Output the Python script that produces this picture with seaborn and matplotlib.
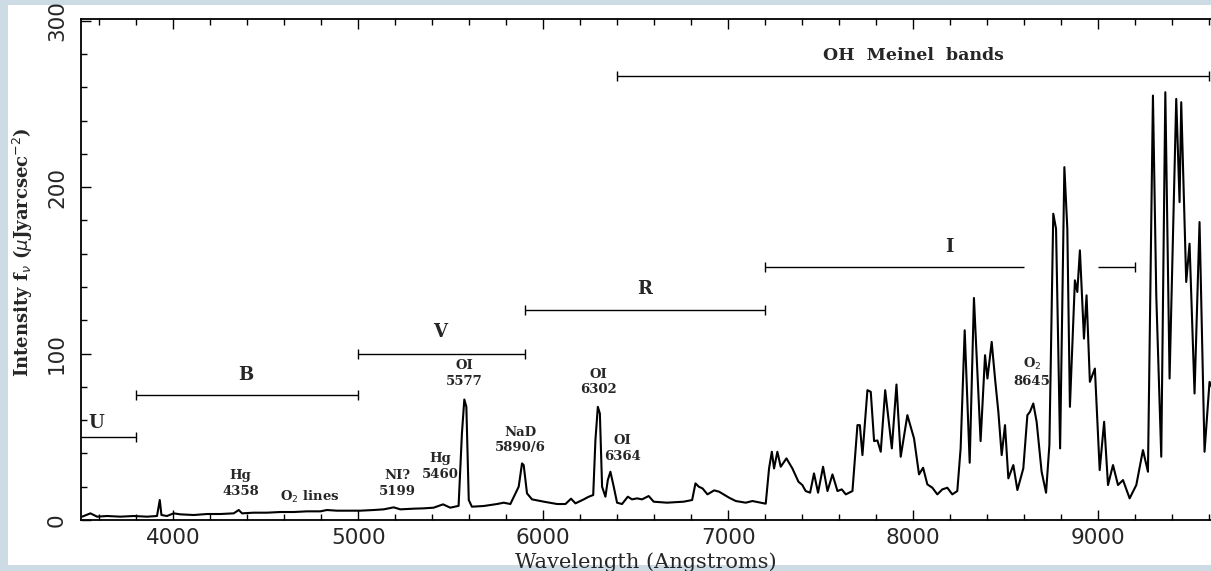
import numpy as np
import pandas as pd
import matplotlib
matplotlib.use("Agg")
import matplotlib.pyplot as plt
from matplotlib.patches import Rectangle
from matplotlib.ticker import MultipleLocator
import seaborn as sns

# night sky spectrum
wavelength = [
    3506, 3551, 3587, 3641, 3713, 3785, 3857, 3911, 3926, 3935, 3965, 4001,
    4037, 4110, 4182, 4254, 4326, 4353, 4371, 4434, 4506, 4578, 4650, 4722,
    4794, 4830, 4884, 4938, 5010, 5083, 5137, 5191, 5227, 5299, 5353, 5407,
    5458, 5497, 5542, 5560, 5573, 5584, 5597, 5614, 5677, 5750, 5786, 5822,
    5867, 5885, 5894, 5912, 5939, 6003, 6075, 6120, 6150, 6174, 6219, 6246,
    6270, 6282, 6295, 6306, 6318, 6336, 6349, 6363, 6381, 6399, 6426, 6457,
    6480, 6507, 6534, 6570, 6597, 6669, 6759, 6805, 6823, 6841, 6861, 6888,
    6924, 6951, 7005, 7041, 7095, 7131, 7203, 7221, 7236, 7248, 7266, 7284,
    7315, 7347, 7380, 7401, 7419, 7443, 7464, 7486, 7513, 7537, 7564, 7591,
    7614, 7636, 7672, 7699, 7712, 7726, 7753, 7771, 7789, 7807, 7825, 7849,
    7885, 7910, 7933, 7969, 8005, 8032, 8054, 8077, 8104, 8131, 8158, 8185,
    8212, 8239, 8257, 8279, 8306, 8329, 8365, 8389, 8402, 8425, 8443, 8461,
    8479, 8497, 8515, 8542, 8564, 8596, 8618, 8632, 8650, 8668, 8695, 8719,
    8737, 8758, 8773, 8795, 8818, 8834, 8848, 8875, 8888, 8902, 8924, 8938,
    8956, 8983, 9009, 9033, 9054, 9081, 9108, 9135, 9171, 9207, 9243, 9270,
    9297, 9315, 9342, 9364, 9387, 9423, 9441, 9450, 9477, 9495, 9522, 9549,
    9576, 9603, 9615,
]
intensity = [
    2, 4, 2, 2.4, 2, 2.4, 2, 2.4, 12, 3, 2.4, 4,
    3.4, 3, 3.6, 3.6, 4, 6, 4, 4.4, 4.4, 4.8, 4.8, 5.2,
    5.2, 6, 5.6, 5.6, 5.6, 6, 6.4, 7.6, 6.4, 6.8, 7, 7.4,
    9.4, 7.4, 8.5, 52, 72.4, 68, 12, 8, 8.4, 9.6, 10.4, 9.6,
    20, 34, 33, 16, 12.4, 11, 9.6, 9.6, 12.8, 10, 12.4, 14,
    15, 48, 68, 64, 20, 14, 24, 29, 20, 10.4, 9.6, 14,
    12.4, 13, 12.4, 14.4, 11, 10.4, 11, 12, 22, 20, 19, 15.4,
    17.8, 17, 13.4, 11.4, 10.4, 11.4, 9.8, 31, 41, 31, 41, 32,
    37, 31, 23, 21, 17.4, 16.4, 28, 16.4, 32, 17.4, 27.4, 17.4,
    18.4, 15.4, 17.4, 57, 57, 39, 78, 77, 47.4, 47.8, 41, 78,
    43, 81.4, 38, 63, 49, 27.4, 31.4, 21.4, 19.4, 15.4, 18.4, 19.4,
    15.4, 17.4, 43, 114, 34.4, 133.4, 47.4, 99, 85, 107, 85, 65,
    39, 57, 25, 33, 18, 31, 63, 65, 70, 59, 29, 16.4,
    45, 184, 175, 43, 212, 175, 68, 144, 137, 162, 109, 135,
    83, 91, 30, 59, 21, 33, 21, 24, 13, 21, 42, 29,
    255, 135, 38, 257, 85, 253, 191, 251, 143, 166, 76, 179,
    41, 83, 80,
]

# photometric bands / OH region: name, start, end, level
band_names = ["U", "B", "V", "R", "I", "OH  Meinel  bands"]
band_start = [3500, 3800, 5000, 5900, 7200, 6400]
band_end = [3800, 5000, 5900, 7200, 9200, 9600]
band_level = [50, 75, 100, 126, 152, 267]
band_label_x = [3580, 4390, 5440, 6550, 8195, 8000]
band_label_y = [58, 87, 113, 139, 164, 279]
i_band_gap = (8600, 9000)

# emission line labels
line_labels = ["Hg\n4358", "O$_2$ lines", "NI?\n5199", "Hg\n5460", "OI\n5577",
               "NaD\n5890/6", "OI\n6302", "OI\n6364", "O$_2$\n8645"]
line_label_x = [4362, 4735, 5211, 5443, 5573, 5876, 6297, 6427, 8643]
line_label_y = [22, 14, 22, 32, 88, 48, 83, 43, 89]

sns.set_style("ticks")
plt.rcParams["font.family"] = ["DejaVu Serif"]

fig = plt.figure(figsize=(12.11, 5.71), dpi=100)
fig.patch.set_facecolor("#cddbe4")
fig.patches.append(Rectangle((8 / 1211, 6 / 571), 1, 1 - 11 / 571,
                             transform=fig.transFigure, facecolor="white",
                             edgecolor="none", zorder=-5))

ax = fig.add_axes([81 / 1211, 1 - 520 / 571, 1130 / 1211, 501 / 571])
ax.set_zorder(2)
ax.set_facecolor("white")

df = pd.DataFrame({"wavelength": wavelength, "intensity": intensity})
sns.lineplot(data=df, x="wavelength", y="intensity", ax=ax, color="black",
             linewidth=1.5, estimator=None)

# band bars with end caps
cap_kw = dict(color="black", linewidth=1.0)
for name, s, e, lv, lx, ly in zip(band_names, band_start, band_end, band_level,
                                  band_label_x, band_label_y):
    if name == "I":
        ax.hlines(lv, s, i_band_gap[0], **cap_kw)
        ax.hlines(lv, i_band_gap[1], e, **cap_kw)
        caps = [s, e]
    elif name == "U":
        ax.hlines(lv, s, e, **cap_kw)
        caps = [e]
    else:
        ax.hlines(lv, s, e, **cap_kw)
        caps = [s, e]
    ax.vlines(caps, lv - 3, lv + 3, **cap_kw)
    fs = 12.5 if name.startswith("OH") else 13
    ax.text(lx, ly, name, ha="center", va="center", fontsize=fs,
            fontweight="bold")

for txt, lx, ly in zip(line_labels, line_label_x, line_label_y):
    ax.text(lx, ly, txt, ha="center", va="center", fontsize=9.5,
            fontweight="bold", linespacing=1.25)

ax.set_xlim(3500, 9611)
ax.set_ylim(0, 301)
ax.xaxis.set_major_locator(MultipleLocator(1000))
ax.xaxis.set_minor_locator(MultipleLocator(200))
ax.yaxis.set_major_locator(MultipleLocator(100))
ax.yaxis.set_minor_locator(MultipleLocator(20))
ax.tick_params(which="both", direction="in", top=True, right=False,
               color="black", width=1.0)
ax.tick_params(which="major", length=7)
ax.tick_params(which="minor", length=4)
ax.tick_params(axis="x", labelsize=15.5, pad=6)
ax.tick_params(axis="y", labelsize=15.5, pad=10, labelrotation=90)
for lab in ax.get_xticklabels() + ax.get_yticklabels():
    lab.set_family("DejaVu Sans")
for lab in ax.get_yticklabels():
    lab.set_va("center")

for side in ["left", "bottom", "top"]:
    ax.spines[side].set_visible(True)
    ax.spines[side].set_color("black")
    ax.spines[side].set_linewidth(1.3)
ax.spines["right"].set_visible(False)

ax.set_xlabel("Wavelength (Angstroms)", fontsize=15, labelpad=3)
ax.set_ylabel(r"Intensity f$_\nu$ ($\mu$Jyarcsec$^{-2}$)", fontsize=13,
              fontweight="bold")
ax.yaxis.set_label_coords(-0.041, 0.535)

fig.savefig("out.png", dpi=100, facecolor=fig.get_facecolor())
